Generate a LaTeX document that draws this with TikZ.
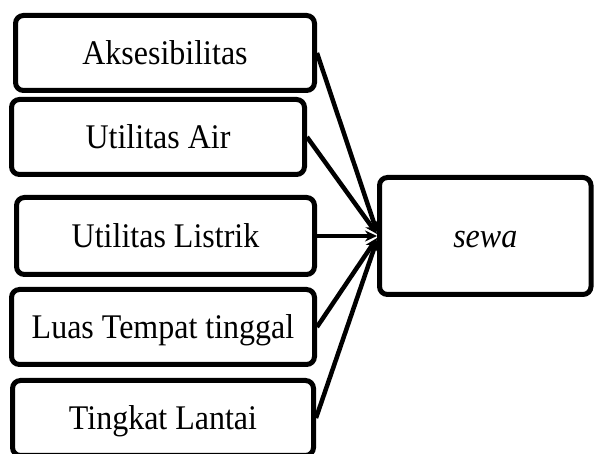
\documentclass[tikz,border=0pt]{standalone}
\usepackage{fontspec}
\usepackage{graphicx}
\setmainfont{Liberation Serif}
\usetikzlibrary{arrows.meta}
% labels are set slightly taller than wide
\newcommand{\tall}[1]{\scalebox{1}[1.08]{#1}}
\begin{document}
\begin{tikzpicture}[x=1pt,y=-1pt,
  factor/.style={draw=black, line width=5pt, rounded corners=8pt,
    fill=white, inner sep=0pt, text height=24pt, text depth=0pt,
    font=\fontsize{32}{38}\selectfont},
  link/.style={line width=4.5pt, -{Stealth[length=12pt,width=11pt]}}]
  \useasboundingbox (0,0) rectangle (595,454);
  % factor boxes on the left
  \node[factor, minimum width=299pt, minimum height=75pt] (aks) at (165,53) {\tall{Aksesibilitas}};
  \node[factor, minimum width=293pt, minimum height=75pt] (air) at (158,137) {\tall{Utilitas Air}};
  \node[factor, minimum width=298pt, minimum height=77pt] (lis) at (165.5,236) {\tall{Utilitas Listrik}};
  \node[factor, minimum width=303pt, minimum height=75pt] (luas) at (163,327) {\tall{Luas Tempat tinggal}};
  \node[factor, minimum width=301pt, minimum height=75pt] (lantai) at (163,418) {\tall{Tingkat Lantai}};
  % target box
  \node[factor, minimum width=211.5pt, minimum height=117pt] (sewa) at (485.25,236) {\tall{\itshape sewa}};
  % arrows into the target
  \draw[link] (aks.east) -- ([yshift=4pt]sewa.west);
  \draw[link] (air.east) -- ([yshift=2pt]sewa.west);
  \draw[link] (lis.east) -- (sewa.west);
  \draw[link] (luas.east) -- ([yshift=-2pt]sewa.west);
  \draw[link] (lantai.east) -- ([yshift=-4pt]sewa.west);
\end{tikzpicture}
\end{document}
